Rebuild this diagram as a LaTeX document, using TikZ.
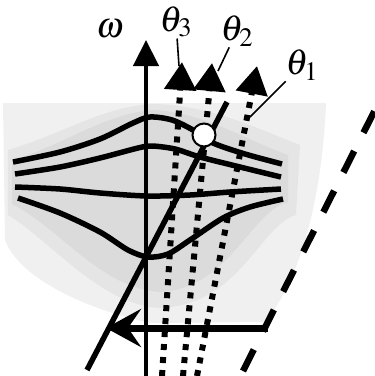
\documentclass[tikz,border=0pt]{standalone}
\usepackage{mathptmx}
\usepackage{fontspec}
\setmainfont{Liberation Serif}
\usetikzlibrary{arrows.meta}

\tikzset{
  band/.style={line width=5.5pt},
  ray/.style={line width=6pt, dash pattern=on 6pt off 7pt,
    -{Triangle[length=28pt,width=31pt]}},
  pointer/.style={line width=1.6pt},
  lab/.style={font=\fontsize{36}{36}\selectfont, inner sep=1pt},
}

\begin{document}
\begin{tikzpicture}[x=1pt,y=-1pt]
  \useasboundingbox (0,0) rectangle (375,376);

  % shaded background
  \fill[gray!12] (3,103) -- (326,103)
    .. controls (322,200) and (300,280) .. (265,322) -- (150,323)
    .. controls (90,310) and (20,280) .. (5,240) -- cycle;
  \fill[gray!20] (8,150) .. controls (60,135) and (100,108) .. (150,104)
    .. controls (210,104) and (260,130) .. (300,145) -- (296,215)
    .. controls (260,225) and (240,305) .. (160,308)
    .. controls (100,305) and (50,240) .. (8,215) -- cycle;
  \fill[gray!28] (12,160) .. controls (60,147) and (100,116) .. (150,110)
    .. controls (200,110) and (250,142) .. (288,155) -- (288,202)
    .. controls (250,212) and (230,288) .. (160,292)
    .. controls (100,288) and (60,228) .. (12,204) -- cycle;

  % bands
  \draw[band] plot[smooth] coordinates {(13,162) (60,152) (100,139) (133,123)
    (150,117) (172,120) (193,130) (213,143) (245,154) (282,164)};
  \draw[band] plot[smooth] coordinates {(15,174) (60,167) (100,158) (138,148)
    (152,146) (175,149) (200,157) (240,167) (281,177)};
  \draw[band] plot[smooth] coordinates {(15,187) (60,189) (100,193) (147,196)
    (190,195) (230,192) (281,189)};
  \draw[band] plot[smooth] coordinates {(18,198) (60,213) (100,232) (128,250)
    (148,257) (168,254) (190,240) (223,218) (250,207) (283,199)};

  % rays
  \coordinate (r3a) at (162,376); \coordinate (r3b) at (182,62);
  \coordinate (r2a) at (183,376); \coordinate (r2b) at (212,63);
  \coordinate (r1a) at (197,376); \coordinate (r1b) at (257,66);
  \draw[ray] (r3a) -- (r3b);
  \draw[ray] (r2a) -- (r2b);
  \draw[ray] (r1a) -- (r1b);

  % line and axis
  \coordinate (d0) at (87,370); \coordinate (d1) at (227,102);
  \draw[line width=5.5pt] (d0) -- (d1);
  \coordinate (o) at (146,376); \coordinate (wtop) at (146,40);
  \draw[line width=4.5pt, -{Triangle[length=26pt,width=25pt]}] (o) -- (wtop);

  \node[circle, draw, fill=white, line width=2pt, minimum size=23pt,
    inner sep=0pt] (spot) at (204,135) {};

  % incident beam
  \coordinate (h0) at (268,328); \coordinate (h1) at (106,328);
  \draw[line width=7pt, -{Stealth[length=35pt,width=38pt,inset=13pt]}]
    (h0) -- (h1);
  \coordinate (s0) at (243,371); \coordinate (s1) at (378,104);
  \draw[line width=6.5pt, dash pattern=on 24pt off 20.5pt] (s0) -- (s1);

  % labels
  \node[lab] (w) at (110,29) {$\omega$};
  \node[lab] (t3) at (176,22) {$\theta_3$};
  \node[lab] (t2) at (237,31) {$\theta_2$};
  \node[lab] (t1) at (302,65) {$\theta_1$};
  \coordinate (p3) at (179,66);
  \coordinate (p2) at (218,71);
  \coordinate (p1) at (250,117);
  \draw[pointer] (t3) -- (p3);
  \draw[pointer] (t2) -- (p2);
  \draw[pointer] (t1) -- (p1);
\end{tikzpicture}
\end{document}
